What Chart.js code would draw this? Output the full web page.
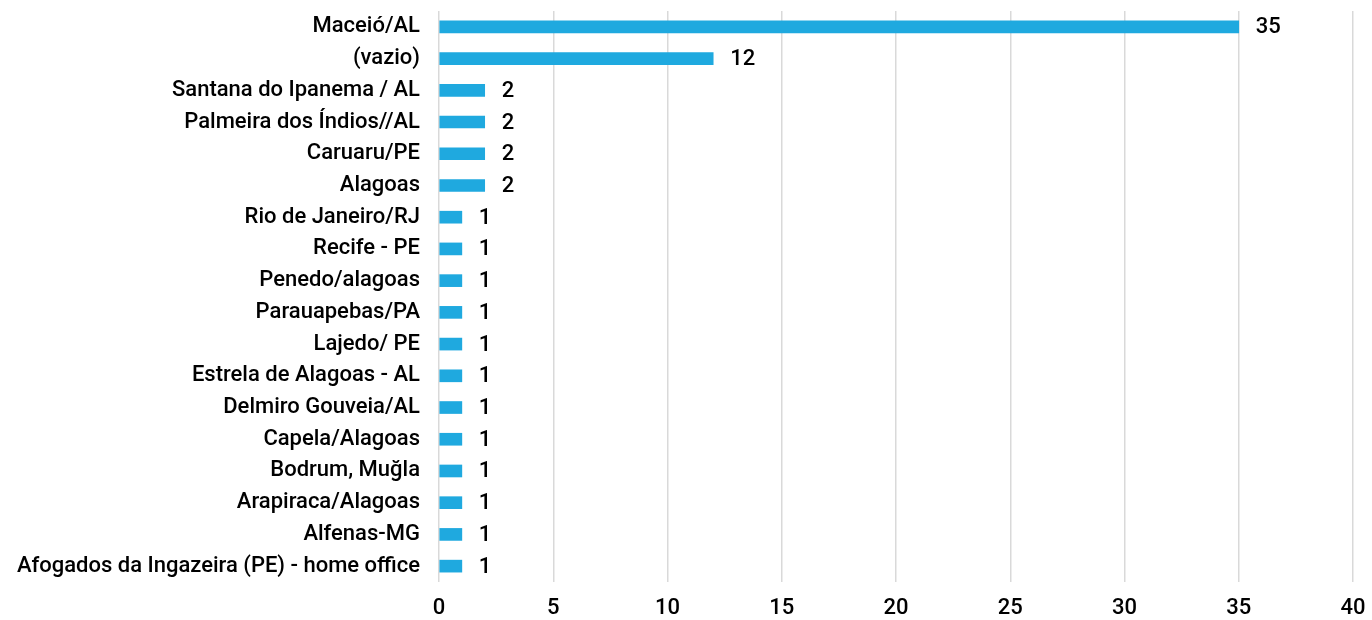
<!DOCTYPE html>
<html>
<head>
<meta charset="utf-8">
<script src="https://cdn.jsdelivr.net/npm/chart.js@4"></script>
<style>
  html, body { margin: 0; padding: 0; background: #fff; }
  #wrap { width: 1372px; height: 620px; }
</style>
</head>
<body>
<div id="wrap"><canvas id="cidades"></canvas></div>
<script>
// categories, top to bottom
const cidades = [
    'Maceió/AL',
    '(vazio)',
    'Santana do Ipanema / AL',
    'Palmeira dos Índios//AL',
    'Caruaru/PE',
    'Alagoas',
    'Rio de Janeiro/RJ',
    'Recife - PE',
    'Penedo/alagoas',
    'Parauapebas/PA',
    'Lajedo/ PE',
    'Estrela de Alagoas - AL',
    'Delmiro Gouveia/AL',
    'Capela/Alagoas',
    'Bodrum, Muğla',
    'Arapiraca/Alagoas',
    'Alfenas-MG',
    'Afogados da Ingazeira (PE) - home office'
];
const respostas = [35, 12, 2, 2, 2, 2, 1, 1, 1, 1, 1, 1, 1, 1, 1, 1, 1, 1];
const xTicks = [0, 5, 10, 15, 20, 25, 30, 35, 40];

const fontFamily = 'Roboto, "DejaVu Sans", sans-serif';

// drop the extra room chart.js keeps for half-labels at the axis ends
const noEdgePadding = (scale) => {
    scale.paddingTop = 0;
    scale.paddingBottom = 0;
    scale.paddingLeft = 0;
    scale.paddingRight = 0;
};

// draw the value right after each bar
const valueLabels = {
    id: 'valueLabels',
    afterDatasetsDraw(chart) {
        const ctx = chart.ctx;
        const meta = chart.getDatasetMeta(0);
        ctx.save();
        ctx.font = '500 22px ' + fontFamily;
        ctx.fillStyle = '#000';
        ctx.textAlign = 'left';
        ctx.textBaseline = 'middle';
        meta.data.forEach((bar, i) => {
            ctx.fillText(String(respostas[i]), bar.x + 17, bar.y + 1);
        });
        ctx.restore();
    }
};

new Chart(document.getElementById('cidades'), {
    type: 'bar',
    data: {
        labels: cidades,
        datasets: [{
            data: respostas,
            backgroundColor: '#1fa9df',
            barThickness: 12
        }]
    },
    options: {
        indexAxis: 'y',
        responsive: true,
        maintainAspectRatio: false,
        animation: false,
        layout: { padding: { top: 11, right: 19, left: 0, bottom: 0 } },
        plugins: {
            legend: { display: false },
            tooltip: { enabled: false }
        },
        scales: {
            x: {
                min: 0,
                max: 40,
                afterBuildTicks: (scale) => { scale.ticks = xTicks.map(v => ({ value: v })); },
                afterFit: (scale) => { scale.height = 38; noEdgePadding(scale); },
                grid: { color: '#d9d9d9', lineWidth: 1.5, drawTicks: false },
                border: { display: false },
                ticks: {
                    color: '#000',
                    padding: 13,
                    font: { family: fontFamily, size: 22, weight: '500' }
                }
            },
            y: {
                afterFit: (scale) => { scale.width = 439; noEdgePadding(scale); },
                grid: { display: false, drawTicks: false },
                border: { display: false },
                ticks: {
                    color: '#000',
                    padding: 19,
                    autoSkip: false,
                    font: { family: fontFamily, size: 22, weight: '500' }
                }
            }
        }
    },
    plugins: [valueLabels]
});
</script>
</body>
</html>
